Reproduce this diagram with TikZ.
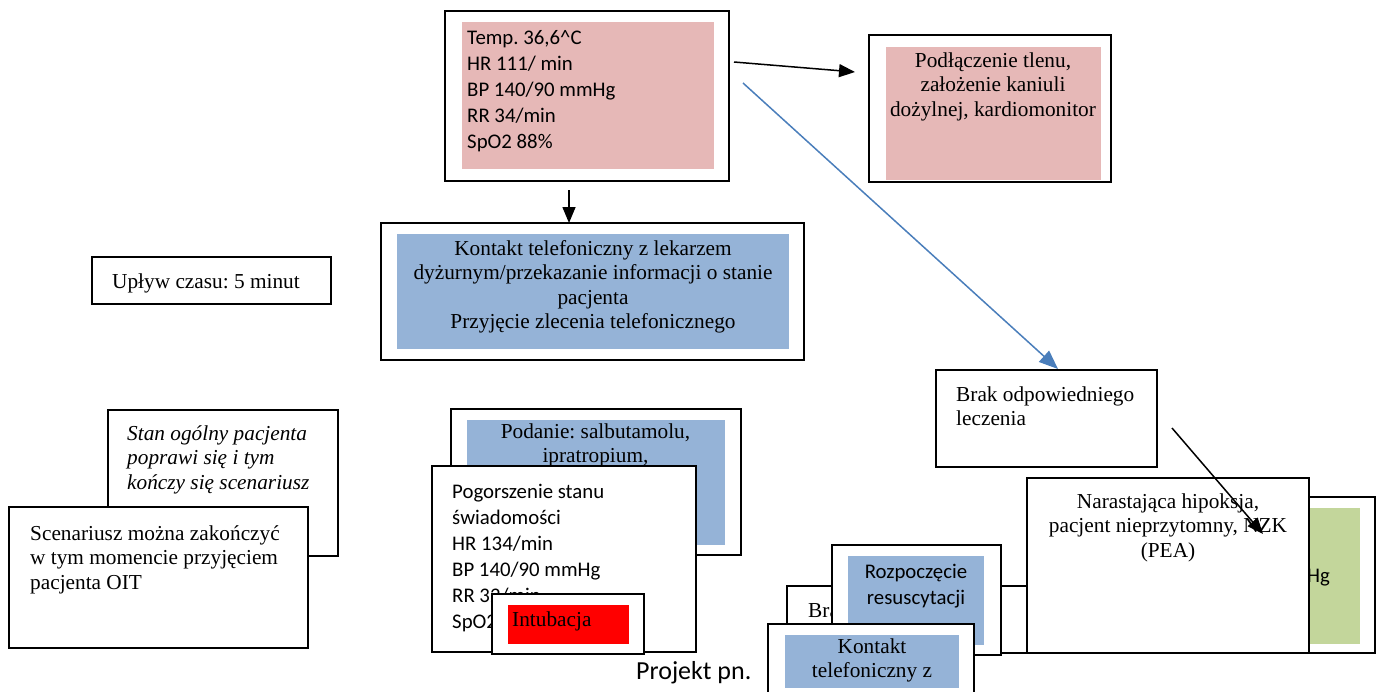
\documentclass[tikz,border=0pt]{standalone}
\usepackage{fontspec}
\setmainfont{Liberation Serif}
\newfontfamily\calib{Carlito}
\usetikzlibrary{arrows.meta}
\definecolor{pinkfill}{HTML}{E6B8B7}
\definecolor{bluefill}{HTML}{95B3D7}
\definecolor{greenfill}{HTML}{C3D69B}
\definecolor{lineblue}{HTML}{4A7EBB}
\frenchspacing
\begin{document}
\begin{tikzpicture}[x=1pt,y=-1pt,
 frame/.style={draw=black,line width=1.8pt,fill=white,anchor=north west,inner sep=0pt,outer sep=0pt},
 panel/.style={draw=none,anchor=north west,inner sep=0pt,outer sep=0pt},
 serif/.style={font=\fontsize{21.3}{24.6}\selectfont,inner sep=0pt},
 sans/.style={font=\calib\fontsize{20.8}{26}\selectfont,inner sep=0pt},
 blk/.style={-{Triangle[length=16pt,width=13pt]},line width=1.5pt,draw=black},
 bluearr/.style={-{Triangle[length=19pt,width=15pt]},line width=1.5pt,draw=lineblue},
]
\useasboundingbox (0,0) rectangle (1381,691);

% top vitals
\node[frame,minimum width=284,minimum height=170] (vit) at (445,11) {};
\node[panel,fill=pinkfill,minimum width=252,minimum height=147] (vitf) at (462,22) {};
\node[sans,anchor=base west,align=left] (vitt) at (467,148) {Temp. 36,6\textasciicircum C\\HR 111/ min\\BP 140/90 mmHg\\RR 34/min\\SpO2 88\%};

% oxygen box
\node[frame,minimum width=242,minimum height=147] (pod) at (869,35) {};
\node[panel,fill=pinkfill,minimum width=215,minimum height=133] (podf) at (886,47) {};
\node[serif,anchor=base,align=center] (podt) at (993,116.2) {Podłączenie tlenu,\\założenie kaniuli\\dożylnej, kardiomonitor};

% phone contact box
\node[frame,minimum width=423,minimum height=137] (kon) at (381,223) {};
\node[panel,fill=bluefill,minimum width=392,minimum height=115] (konf) at (397,234) {};
\node[serif,anchor=base,align=center] (kont) at (593,328.8) {Kontakt telefoniczny z lekarzem\\dyżurnym/przekazanie informacji o stanie\\pacjenta\\Przyjęcie zlecenia telefonicznego};

% time box
\node[frame,minimum width=239,minimum height=47] (up) at (92,257) {};
\node[serif,anchor=base west] (upt) at (112,288) {Upływ czasu: 5 minut};

% left stacked boxes
\node[frame,minimum width=230,minimum height=146] (stan) at (108,410) {};
\node[serif,anchor=base west,align=left,font=\fontsize{21.3}{24.6}\selectfont\itshape] (stant) at (127,489.2) {Stan ogólny pacjenta\\poprawi się i tym\\kończy się scenariusz};
\node[frame,minimum width=299,minimum height=141] (scen) at (9,507) {};
\node[serif,anchor=base west,align=left] (scent) at (30,589.2) {Scenariusz można zakończyć\\w tym momencie przyjęciem\\pacjenta OIT};

% middle stacked boxes
\node[frame,minimum width=290,minimum height=146] (pdn) at (451,409) {};
\node[panel,fill=bluefill,minimum width=258,minimum height=125] (pdnf) at (467,420) {};
\node[serif,anchor=base,align=center] (pdnt) at (595.5,462.6) {Podanie: salbutamolu,\\ipratropium,};
\node[frame,minimum width=264,minimum height=186] (pog) at (432,466) {};
\node[sans,anchor=base west,align=left] (pogt) at (452,628) {Pogorszenie stanu\\świadomości\\HR 134/min\\BP 140/90 mmHg\\RR 32/min\\SpO2};
\node[frame,minimum width=152,minimum height=60] (intub) at (492,594) {};
\node[panel,fill=red,minimum width=121,minimum height=39] (intubf) at (508,605) {};
\node[serif,anchor=base west] (intubt) at (512,626) {Intubacja};

\node[font=\calib\fontsize{26}{30}\selectfont,inner sep=0pt,anchor=base west] (proj) at (636,679) {Projekt pn.};

% right boxes
\node[frame,minimum width=221,minimum height=97] (brak) at (936,370) {};
\node[serif,anchor=base west,align=left] (brakt) at (956,425.6) {Brak odpowiedniego\\leczenia};

\node[frame,minimum width=225,minimum height=156] (grn) at (1150,497) {};
\node[panel,fill=greenfill,minimum width=200,minimum height=136] (grnf) at (1160,508) {};
\node[sans,anchor=base west] (grnt) at (1307,582) {Hg};

\node[frame,minimum width=353,minimum height=67] (bra) at (787,586) {};
\node[serif,anchor=base west] (brat) at (808,617) {Bra};
\node[frame,minimum width=169,minimum height=110] (roz) at (832,545) {};
\node[panel,fill=bluefill,minimum width=136,minimum height=89] (rozf) at (848,556) {};
\node[sans,anchor=base,align=center] (rozt) at (916,604) {Rozpoczęcie\\resuscytacji};
\node[frame,minimum width=206,minimum height=86] (kb) at (768,624) {};
\node[panel,fill=bluefill,minimum width=174,minimum height=53] (kbf) at (785,635) {};
\node[serif,anchor=base,align=center] (kbt) at (872,677.6) {Kontakt\\telefoniczny z};

\node[frame,minimum width=282,minimum height=175] (nar) at (1027,478) {};
\node[serif,anchor=base,align=center] (nart) at (1168,557.2) {Narastająca hipoksja,\\pacjent nieprzytomny, NZK\\(PEA)};

% connectors
\coordinate (a1s) at (734,62);
\coordinate (a1e) at (855,72);
\coordinate (a2s) at (743,83);
\coordinate (a2e) at (1058,369);
\coordinate (a3s) at (569,190);
\coordinate (a3e) at (569,223);
\coordinate (a4s) at (1172,428);
\coordinate (a4e) at (1263,534);
\draw[blk] (a1s) -- (a1e);
\draw[bluearr] (a2s) -- (a2e);
\draw[blk] (a3s) -- (a3e);
\draw[blk] (a4s) -- (a4e);
\end{tikzpicture}
\end{document}
